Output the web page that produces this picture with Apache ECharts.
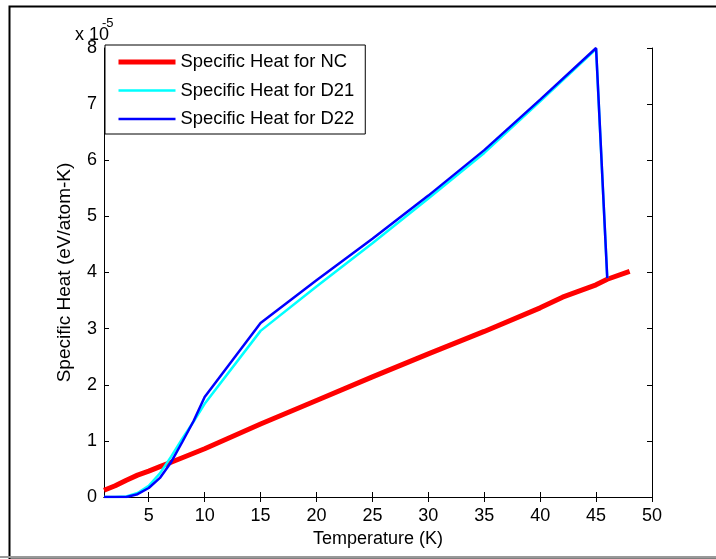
<!DOCTYPE html>
<html>
<head>
<meta charset="utf-8">
<script src="https://cdn.jsdelivr.net/npm/echarts@6/dist/echarts.min.js"></script>
<style>
  html, body { margin: 0; padding: 0; background: #fff; }
  #chart { width: 716px; height: 559px; }
</style>
</head>
<body>
<div id="chart"></div>
<script>
var chartDom = document.getElementById('chart');
var myChart = echarts.init(chartDom);

// values on the y axis are in units of 1e-5 eV/atom-K
const tempNC = [1, 2, 3, 4, 5, 6, 7, 8, 9, 10, 15, 20, 25, 30, 35, 40, 42, 45, 46, 48];
const heatNC = [0.12, 0.2, 0.3, 0.39, 0.46, 0.54, 0.62, 0.7, 0.78, 0.86, 1.3, 1.72, 2.14, 2.55, 2.95, 3.37, 3.56, 3.78, 3.88, 4.02];

const tempD = [1, 2, 3, 4, 5, 6, 7, 8, 9, 10, 15, 20, 25, 30, 35, 40, 45, 46];
const heatD21 = [0, 0, 0.01, 0.07, 0.2, 0.42, 0.72, 1.04, 1.34, 1.66, 2.96, 3.75, 4.52, 5.32, 6.13, 7.05, 7.98, 3.9];
const heatD22 = [0, 0, 0, 0.05, 0.16, 0.34, 0.62, 0.98, 1.35, 1.78, 3.1, 3.86, 4.6, 5.37, 6.18, 7.08, 8.0, 3.9];

const xTicks = [5, 10, 15, 20, 25, 30, 35, 40, 45, 50];
const yTicks = [0, 1, 2, 3, 4, 5, 6, 7, 8];

const font = 'Liberation Sans, Arial, sans-serif';

function pairs(xs, ys) {
  return xs.map(function (x, i) { return [x, ys[i]]; });
}

var axisX = {
  type: 'value',
  min: 1,
  max: 50,
  axisLine: { show: true, lineStyle: { color: '#000', width: 1 } },
  axisTick: { show: true, inside: true, length: 5, customValues: xTicks, lineStyle: { color: '#000' } },
  splitLine: { show: false }
};
var axisY = {
  type: 'value',
  min: 0,
  max: 8,
  interval: 1,
  axisLine: { show: true, lineStyle: { color: '#000', width: 1 } },
  axisTick: { show: true, inside: true, length: 5, customValues: yTicks, lineStyle: { color: '#000' } },
  splitLine: { show: false }
};

var option = {
  animation: false,
  backgroundColor: '#fff',
  grid: { left: 104, right: 64, top: 48, bottom: 62 },
  legend: {
    orient: 'vertical',
    left: 105,
    top: 45,
    padding: [8, 11, 6, 11],
    itemWidth: 57,
    itemHeight: 14,
    itemGap: 10.5,
    backgroundColor: '#fff',
    borderColor: '#000',
    borderWidth: 1,
    borderRadius: 0,
    itemStyle: { opacity: 0 },
    textStyle: { fontFamily: font, fontSize: 18.4, color: '#000' },
    data: [
      { name: 'Specific Heat for NC', lineStyle: { width: 5 } },
      { name: 'Specific Heat for D21', lineStyle: { width: 2.5 } },
      { name: 'Specific Heat for D22', lineStyle: { width: 2.5 } }
    ]
  },
  xAxis: [
    Object.assign({}, axisX, {
      position: 'bottom',
      name: 'Temperature (K)',
      nameLocation: 'middle',
      nameGap: 33,
      nameTextStyle: { fontFamily: font, fontSize: 18, color: '#000' },
      axisLabel: { customValues: xTicks, margin: 10, fontFamily: font, fontSize: 18, color: '#000' }
    }),
    Object.assign({}, axisX, {
      position: 'top',
      axisLabel: { show: false }
    })
  ],
  yAxis: [
    Object.assign({}, axisY, {
      position: 'left',
      name: 'Specific Heat (eV/atom-K)',
      nameLocation: 'middle',
      nameGap: 30,
      nameTextStyle: { fontFamily: font, fontSize: 19, color: '#000' },
      axisLabel: { customValues: yTicks, margin: 7, fontFamily: font, fontSize: 18, color: '#000' }
    }),
    Object.assign({}, axisY, {
      position: 'right',
      axisLabel: { show: false }
    })
  ],
  graphic: [
    { type: 'rect', left: 7, top: 4, shape: { width: 720, height: 553 }, style: { fill: 'none', stroke: '#000', lineWidth: 2 }, z: -1 },
    { type: 'line', shape: { x1: 0, y1: 557, x2: 716, y2: 557 }, style: { stroke: '#999', lineWidth: 2 } },
    { type: 'text', left: 75, top: 26, style: { text: 'x 10', fontFamily: font, fontSize: 18, fill: '#000' } },
    { type: 'text', left: 102, top: 17, style: { text: '-5', fontFamily: font, fontSize: 13, fill: '#000' } }
  ],
  series: [
    {
      name: 'Specific Heat for NC',
      type: 'line',
      showSymbol: false,
      symbol: 'none',
      lineStyle: { color: '#ff0000', width: 5 },
      itemStyle: { color: '#ff0000' },
      data: pairs(tempNC, heatNC)
    },
    {
      name: 'Specific Heat for D21',
      type: 'line',
      showSymbol: false,
      symbol: 'none',
      lineStyle: { color: '#00ffff', width: 2.5 },
      itemStyle: { color: '#00ffff' },
      data: pairs(tempD, heatD21)
    },
    {
      name: 'Specific Heat for D22',
      type: 'line',
      showSymbol: false,
      symbol: 'none',
      lineStyle: { color: '#0000ff', width: 2.5 },
      itemStyle: { color: '#0000ff' },
      data: pairs(tempD, heatD22)
    }
  ]
};

option && myChart.setOption(option);

window.addEventListener('resize', function () {
  myChart.resize();
});
</script>
</body>
</html>
